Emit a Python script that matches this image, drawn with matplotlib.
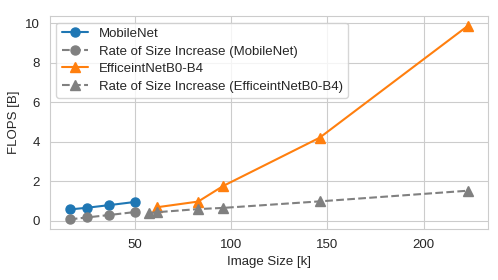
import matplotlib
matplotlib.use("Agg")
import matplotlib.pyplot as plt
import seaborn as sns

sns.set_style("whitegrid")
plt.rcParams['font.family'] = ['Liberation Sans', 'DejaVu Sans']

# MobileNet
mobilenet_size = [16.4, 25.6, 36.9, 50.2]
mobilenet_flops = [0.57, 0.66, 0.79, 0.95]
mobilenet_rate = [0.07, 0.17, 0.29, 0.44]

# EfficientNet B0-B4
effnet_size = [61.5, 83.0, 96.0, 146.0, 223.0]
effnet_flops = [0.68, 0.97, 1.76, 4.2, 9.87]
effnet_rate_size = [57.5, 61.5, 83.0, 96.0, 146.0, 223.0]
effnet_rate = [0.38, 0.43, 0.59, 0.65, 0.98, 1.52]

fig, ax = plt.subplots(figsize=(4.98, 2.8), dpi=100)
fig.subplots_adjust(left=0.1, right=0.98, top=0.943, bottom=0.182)

ax.plot(mobilenet_size, mobilenet_flops, marker='o', color='#1f77b4',
        lw=1.5, ms=6.5, label='MobileNet')
ax.plot(mobilenet_size, mobilenet_rate, marker='o', color='gray', ls='--',
        lw=1.5, ms=6.5, label='Rate of Size Increase (MobileNet)')
ax.plot(effnet_size, effnet_flops, marker='^', color='#ff7f0e',
        lw=1.5, ms=6.5, label='EfficeintNetB0-B4')
ax.plot(effnet_rate_size, effnet_rate, marker='^', color='gray', ls='--',
        lw=1.5, ms=6.5, label='Rate of Size Increase (EfficeintNetB0-B4)')

ax.set_xticks([50, 100, 150, 200])
ax.set_yticks([0, 2, 4, 6, 8, 10])
ax.tick_params(labelsize=9.5)
ax.set_xlabel('Image Size [k]', fontsize=9.5)
ax.set_ylabel('FLOPS [B]', fontsize=9.5)
ax.legend(loc='upper left', fontsize=9.5, labelspacing=0.4)

fig.savefig('out.png', dpi=100)
